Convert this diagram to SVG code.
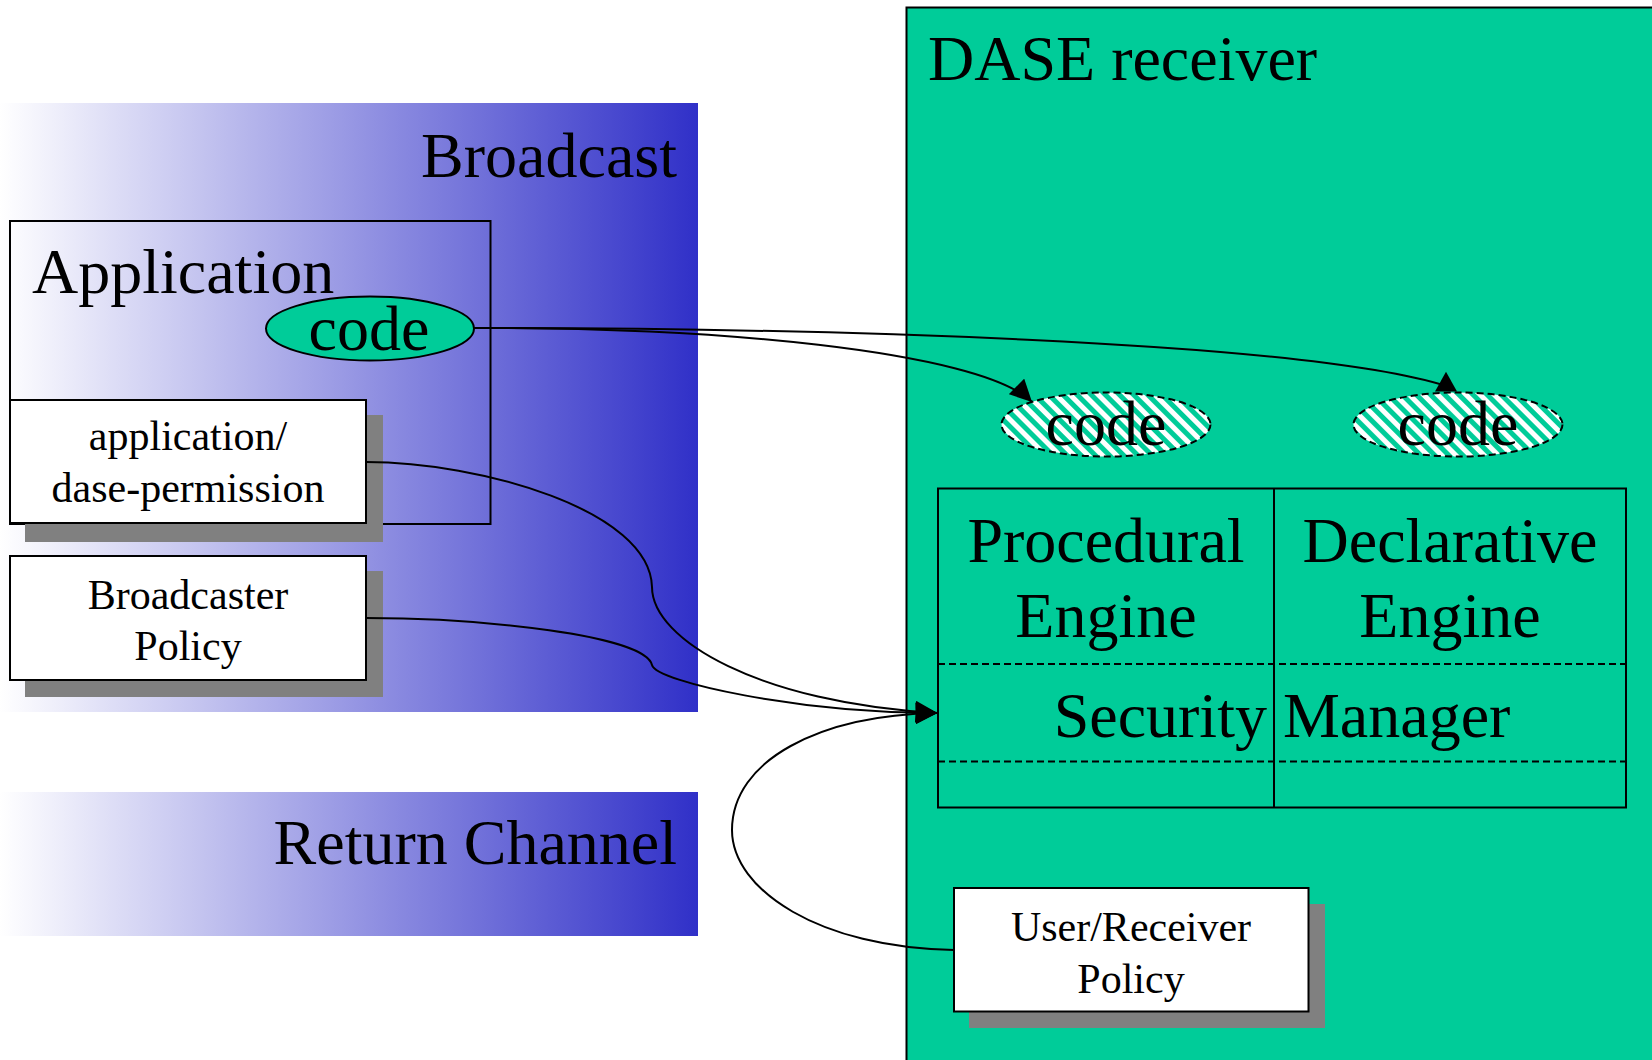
<svg xmlns="http://www.w3.org/2000/svg" width="1652" height="1060" viewBox="0 0 1652 1060">
<style>
  .t { font-family: "Liberation Serif", "Times New Roman", serif; fill: #000; }
  .big { font-size: 64px; }
  .small { font-size: 42px; }
  .box { fill: #fff; stroke: #000; stroke-width: 2; }
  .shadow { fill: #808080; }
  .line { fill: none; stroke: #000; stroke-width: 2; }
  .dash { fill: none; stroke: #000; stroke-width: 2; stroke-dasharray: 7 4; }
</style>
<defs>
  <linearGradient id="blueGrad" x1="0" y1="0" x2="1" y2="0">
    <stop offset="0" stop-color="#ffffff"/>
    <stop offset="1" stop-color="#3030c8"/>
  </linearGradient>
  <pattern id="hatch" patternUnits="userSpaceOnUse" width="10" height="10" patternTransform="rotate(-45)">
    <rect x="0" y="0" width="10" height="10" fill="#ffffff"/>
    <rect x="0" y="0" width="5" height="10" fill="#00cc99"/>
  </pattern>
  <marker id="arrow" markerUnits="userSpaceOnUse" markerWidth="22" markerHeight="22" viewBox="0 0 20 20" refX="20" refY="10" orient="auto">
    <path d="M0,0 L20,10 L0,20 Z" fill="#000"/>
  </marker>
  <marker id="arrowUp" markerUnits="userSpaceOnUse" markerWidth="22" markerHeight="22" viewBox="0 0 20 20" refX="5" refY="10" orient="-90">
    <path d="M0,0 L18,10 L0,20 Z" fill="#000"/>
  </marker>
</defs>

<!-- Background bands -->
<g id="broadcast">
  <rect x="0" y="103" width="698" height="609" fill="url(#blueGrad)"/>
  <text class="t big" x="677" y="177" text-anchor="end">Broadcast</text>
</g>
<g id="return-channel">
  <rect x="0" y="792" width="698" height="144" fill="url(#blueGrad)"/>
  <text class="t big" x="677" y="864" text-anchor="end">Return Channel</text>
</g>

<!-- DASE receiver -->
<g id="dase-receiver">
  <rect x="906.5" y="7.5" width="800" height="1100" fill="#00cc99" stroke="#000" stroke-width="2"/>
  <text class="t big" x="928" y="80">DASE receiver</text>
</g>

<!-- Application -->
<g id="application">
  <rect x="10" y="221" width="480.5" height="303" fill="none" stroke="#000" stroke-width="2"/>
  <text class="t big" x="32" y="293">Application</text>
</g>
<g id="app-code">
  <ellipse cx="370" cy="328.5" rx="104" ry="32" fill="#00cc99" stroke="#000" stroke-width="2"/>
  <text class="t big" x="369" y="350" text-anchor="middle">code</text>
</g>

<g id="dase-permission">
  <rect class="shadow" x="25" y="415" width="358" height="127"/>
  <rect class="box" x="10" y="400" width="356" height="123"/>
  <text class="t small" x="188" y="450" text-anchor="middle">application/</text>
  <text class="t small" x="188" y="502" text-anchor="middle">dase-permission</text>
</g>

<g id="broadcaster-policy">
  <rect class="shadow" x="25" y="571" width="358" height="126"/>
  <rect class="box" x="10" y="556" width="356" height="124"/>
  <text class="t small" x="188" y="609" text-anchor="middle">Broadcaster</text>
  <text class="t small" x="188" y="660" text-anchor="middle">Policy</text>
</g>

<!-- Hatched code ellipses -->
<g id="code-procedural">
  <ellipse cx="1106" cy="424.5" rx="104.5" ry="32" fill="url(#hatch)" stroke="#000" stroke-width="2" stroke-dasharray="7 4"/>
  <text class="t big" x="1106" y="445" text-anchor="middle">code</text>
</g>
<g id="code-declarative">
  <ellipse cx="1458" cy="424.5" rx="104.5" ry="32" fill="url(#hatch)" stroke="#000" stroke-width="2" stroke-dasharray="7 4"/>
  <text class="t big" x="1458" y="445" text-anchor="middle">code</text>
</g>

<!-- Engines table -->
<g id="engines">
  <rect x="938" y="488.5" width="688" height="319" fill="none" stroke="#000" stroke-width="2"/>
  <line x1="1274" y1="488.5" x2="1274" y2="807.5" stroke="#000" stroke-width="2"/>
  <line class="dash" x1="938" y1="664" x2="1626" y2="664"/>
  <line class="dash" x1="938" y1="761.5" x2="1626" y2="761.5"/>
  <text class="t big" x="1106" y="562" text-anchor="middle">Procedural</text>
  <text class="t big" x="1106" y="637" text-anchor="middle">Engine</text>
  <text class="t big" x="1450" y="562" text-anchor="middle">Declarative</text>
  <text class="t big" x="1450" y="637" text-anchor="middle">Engine</text>
  <text class="t big" x="1282" y="737" text-anchor="middle">Security Manager</text>
</g>

<g id="user-receiver-policy">
  <rect class="shadow" x="969" y="904" width="356" height="124"/>
  <rect class="box" x="954" y="888" width="354.5" height="123.5"/>
  <text class="t small" x="1131" y="941" text-anchor="middle">User/Receiver</text>
  <text class="t small" x="1131" y="993" text-anchor="middle">Policy</text>
</g>

<!-- Connectors -->
<g id="connectors">
  <path class="line" d="M474,328 C700,326 980,350 1032,402" marker-end="url(#arrow)"/>
  <path class="line" d="M474,328 C800,328 1300,340 1446,386" marker-end="url(#arrowUp)"/>
  <path class="line" d="M366,462 C480,462 650,510 652,587 C652,640 760,703 937.5,713" marker-end="url(#arrow)"/>
  <path class="line" d="M366,618 C480,618 645,635 652,665 C656,682 800,713 937.5,713" marker-end="url(#arrow)"/>
  <path class="line" d="M954,950 C820,948 732,890 732,830 C732,760 820,715 937.5,713" marker-end="url(#arrow)"/>
</g>
</svg>
